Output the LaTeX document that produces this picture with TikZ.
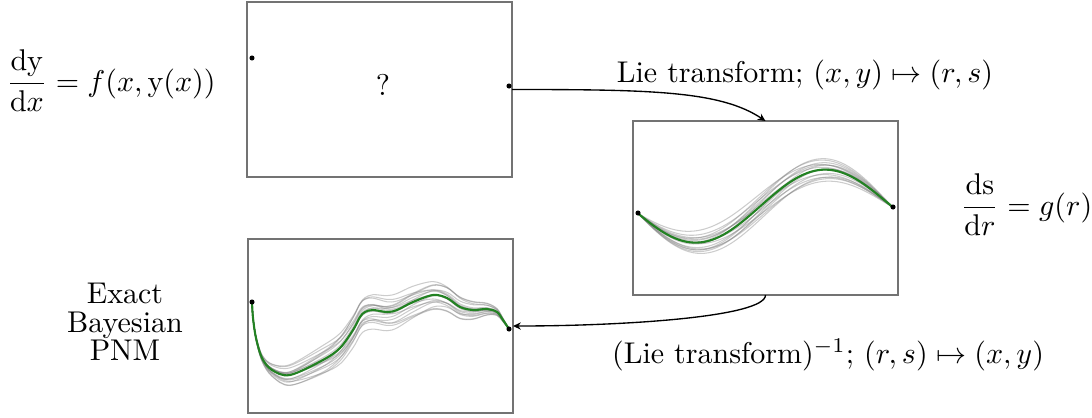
\documentclass[tikz,border=0pt]{standalone}
\usetikzlibrary{arrows.meta}
\definecolor{meangreen}{RGB}{34,130,34}
\newcommand\dd[1]{(\sa*sin(180*#1)+\sb*sin(360*#1)+\sc*sin(540*#1))}
\newcommand\curveA[3]{\draw[#1] plot[domain=0:1,samples=70,smooth,variable=\t]
  ({638+255*\t},{209-6*\t-35*sin(360*(\t-0.48))+(#2)*sin(180*\t)+(#3)*sin(360*\t)});}
\newcommand\curveB[1]{\draw[#1] plot[smooth,tension=0.55] coordinates {
  (252,302) (253,{318+\dd{0.004}}) (256,{338+\dd{0.016}}) (262,{358+\dd{0.039}}) (272,{370+\dd{0.078}}) (290,{375+\dd{0.148}})
  (323,{360+\dd{0.276}}) (340,{348+\dd{0.342}}) (353,{330+\dd{0.393}})
  (360,{317+\dd{0.420}}) (365,{312+\dd{0.440}}) (373,{310+\dd{0.471}})
  (387,{312+\dd{0.525}}) (397,{310+\dd{0.564}}) (413,{302+\dd{0.626}})
  (433,{295+\dd{0.704}}) (447,{298+\dd{0.759}}) (460,{307+\dd{0.809}})
  (473,{310+\dd{0.860}}) (487,{309+\dd{0.914}}) (497,{312+\dd{0.953}})
  (503,{320+\dd{0.977}}) (509,329)};}
\begin{document}
\begin{tikzpicture}[x=0.33333pt,y=-0.33333pt,
  panel/.style={draw=black!55,line width=0.55pt,minimum width=88.33pt,inner sep=0pt,outer sep=0pt},
  samp/.style={black!50,opacity=0.4,line width=0.35pt},
  meanline/.style={meangreen,line width=0.7pt},
  conn/.style={black,line width=0.45pt,-{Stealth[length=2.6pt,width=2.4pt]}},
  dot/.style={fill=black},
  lbl/.style={inner sep=0pt,outer sep=0pt}]
\useasboundingbox (0,0) rectangle (1092,417);
% panels
\node[panel,minimum height=58.33pt] (b1) at (379.5,89.5) {};
\node[panel,minimum height=58pt] (b2) at (765.5,208) {};
\node[panel,minimum height=58pt] (b3) at (380.5,326) {};
% panel 1 content
\node[lbl] (q) at (383,85) {?};
\fill[dot] (252,58) circle[radius=0.85pt];
\fill[dot] (509,86) circle[radius=0.85pt];
% panel 2 curves
\foreach \a/\b in {-10/2,-7/-3,-4/4,-2/-2,3/3,5/-4,8/2,11/-1,-12/-4,6/5,0/-5,-5/1,9/-5,2/6,13/2,-8/5}
  {\curveA{samp}{\a}{\b}}
\curveA{meanline}{0}{0}
\fill[dot] (638,213) circle[radius=0.85pt];
\fill[dot] (893,207) circle[radius=0.85pt];
% panel 3 curves
\foreach \sa/\sb/\sc in {-14/3/2,-10/-2/3,-7/4/-2,-4/-3/1,-2/2/-3,3/-4/2,5/3/-1,8/-2/-3,11/4/2,14/-3/1,17/1/-2,-12/-5/-1,6/6/3,-6/-6/-2,10/-6/0,0/5/3,2/-1/4,-9/1/-4}
  {\curveB{samp}}
\def\sa{0}\def\sb{0}\def\sc{0}
\curveB{meanline}
\fill[dot] (252,302) circle[radius=0.85pt];
\fill[dot] (509,329) circle[radius=0.85pt];
% texts
\node[lbl] (ode1) at (111,81) {$\displaystyle\frac{\mathrm{dy}}{\mathrm{d}x}=f(x,\mathrm{y}(x))$};
\node[lbl] (ode2) at (1026.5,205) {$\displaystyle\frac{\mathrm{ds}}{\mathrm{d}r}=g(r)$};
\node[lbl,align=center] (pnm) at (125,322) {Exact\\[-2.5pt]Bayesian\\[-2.5pt]PNM};
\node[lbl,anchor=base] (lt) at (805,82) {Lie transform; $(x,y)\mapsto(r,s)$};
\node[lbl,anchor=base] (ilt) at (828,363) {(Lie transform)$^{-1}$; $(r,s)\mapsto(x,y)$};
% connectors
\draw[conn] (b1.east) .. controls +(140,0) and +(-45,-30) .. (b2.north);
\draw[conn] (b2.south) .. controls +(0,22) and +(110,0) .. (b3.east);
\end{tikzpicture}
\end{document}
